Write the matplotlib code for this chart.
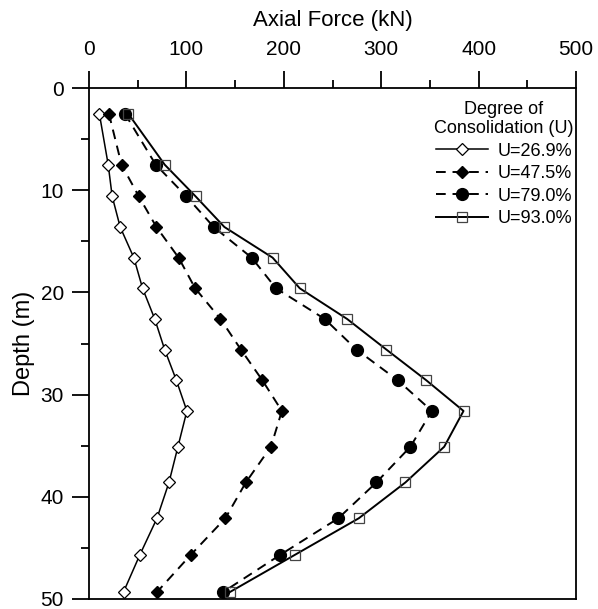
import numpy as np
import matplotlib.pyplot as plt
from matplotlib.ticker import MultipleLocator

plt.rcParams['font.family'] = ['Liberation Sans', 'DejaVu Sans']

# depth of the measuring points (m)
depth = [2.5, 7.5, 10.6, 13.6, 16.6, 19.6, 22.6, 25.6, 28.6, 31.6, 35.1, 38.6, 42.1, 45.7, 49.3]

# axial force (kN) for each degree of consolidation
u269 = [10.6, 19.7, 23.8, 32, 46, 55, 67.5, 77.7, 89.7, 100.5, 91.3, 82.1, 69.8, 52.1, 35.5]
u475 = [20.4, 33.4, 51.1, 69.2, 92, 109, 135, 156, 178, 198, 186.8, 161, 140, 104.3, 70]
u790 = [36.8, 68.5, 99.9, 128, 167, 192, 242, 274.7, 317, 352, 330, 295, 256, 196, 138]
u930 = [40.2, 77.7, 109.4, 139, 188.5, 216.4, 265, 305.4, 346.3, 384.5, 364.7, 324.8, 277, 211, 145]

labels = ['U=26.9%', 'U=47.5%', 'U=79.0%', 'U=93.0%']

fig = plt.figure(figsize=(5.98, 6.09), dpi=100)
ax = fig.add_axes([89/598, 1 - 599/609, (576 - 89)/598, (599 - 88)/609])

ax.plot(u269, depth, '-', color='black', lw=1.1, marker='D', ms=6,
        mfc='white', mec='black', mew=0.9, label=labels[0])
ax.plot(u475, depth, '--', color='black', lw=1.4, dashes=(5, 3.5), marker='D', ms=6,
        mfc='black', mec='black', label=labels[1])
ax.plot(u790, depth, '--', color='black', lw=1.4, dashes=(5, 3.5), marker='o', ms=8.5,
        mfc='black', mec='black', label=labels[2])
ax.plot(u930, depth, '-', color='black', lw=1.4, marker='s', ms=7.5,
        mfc='none', mec='#444444', mew=0.9, label=labels[3])

ax.set_xlim(0, 500)
ax.set_ylim(50, 0)

ax.xaxis.tick_top()
ax.xaxis.set_label_position('top')
ax.xaxis.set_major_locator(MultipleLocator(100))
ax.xaxis.set_minor_locator(MultipleLocator(50))
ax.yaxis.set_major_locator(MultipleLocator(10))
ax.yaxis.set_minor_locator(MultipleLocator(5))
ax.tick_params(which='major', direction='out', length=12, width=1.3, labelsize=15, pad=6)
ax.tick_params(which='minor', direction='out', length=6, width=1.3)
ax.tick_params(axis='x', which='major', pad=9)

for s in ax.spines.values():
    s.set_linewidth(1.3)

ax.set_xlabel('Axial Force (kN)', fontsize=16, labelpad=10)
ax.set_ylabel('Depth (m)', fontsize=17, labelpad=4)

leg = ax.legend(title='Degree of\nConsolidation (U)', loc='upper right',
                bbox_to_anchor=(0.995, 0.975), frameon=False, fontsize=13,
                title_fontsize=13, handlelength=2.9, handletextpad=0.5,
                labelspacing=0.3, borderpad=0, borderaxespad=0)
leg.get_title().set_multialignment('center')

fig.savefig('out.png', dpi=100)
